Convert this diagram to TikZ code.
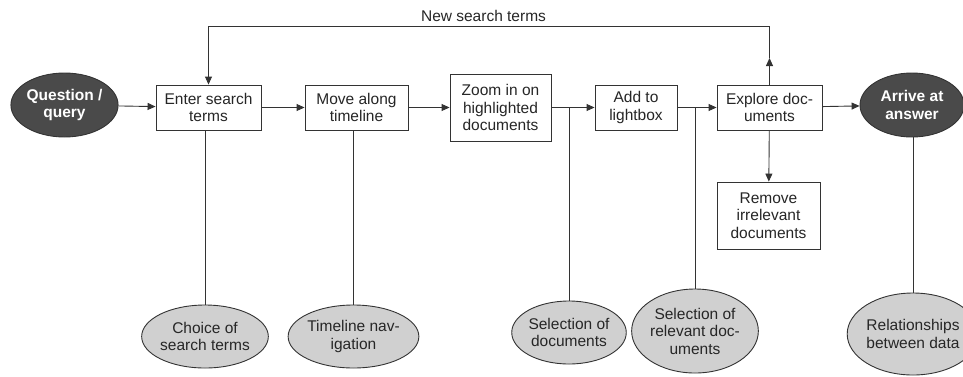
\documentclass[tikz,border=0pt]{standalone}
\usepackage{fontspec}
\setmainfont{Liberation Sans}
\usetikzlibrary{shapes.geometric,arrows.meta}
\definecolor{lin}{HTML}{333333}
\definecolor{dark}{HTML}{4A4A4A}
\definecolor{light}{HTML}{D0D0D0}
\begin{document}
\begin{tikzpicture}[x=1pt,y=-1pt,
  every node/.style={font=\fontsize{15.5}{17.5}\selectfont, align=center, inner sep=0pt, text=black!85},
  stepbox/.style={draw=lin, line width=0.9pt, fill=white, rectangle},
  darkell/.style={ellipse, draw=lin, line width=0.9pt, fill=dark, text=white, font=\fontsize{15.5}{17.5}\selectfont\bfseries},
  lightell/.style={ellipse, draw=lin, line width=0.9pt, fill=light},
  conn/.style={draw=lin, line width=0.9pt},
  arr/.style={conn, -{Triangle[length=8pt,width=7pt]}}]
\useasboundingbox (0,0) rectangle (963,376);
% main row
\node[darkell, minimum width=105, minimum height=64] (q) at (64.5,105) {Question /\\query};
\node[stepbox, minimum width=105, minimum height=45] (enter) at (208.5,107.5) {Enter search\\terms};
\node[stepbox, minimum width=103, minimum height=45] (move) at (356.5,107.5) {Move along\\timeline};
\node[stepbox, minimum width=101, minimum height=67] (zoom) at (500.5,107.5) {Zoom in on\\highlighted\\documents};
\node[stepbox, minimum width=82, minimum height=45] (add) at (636,107.5) {Add to\\lightbox};
\node[stepbox, minimum width=105, minimum height=45] (explore) at (769.5,107.5) {Explore doc-\\uments};
\node[darkell, minimum width=104, minimum height=64] (arrive) at (912,105) {Arrive at\\answer};
\node[stepbox, minimum width=103, minimum height=67] (remove) at (768.5,215.5) {Remove\\irrelevant\\documents};
% bottom ellipses
\node[lightell, minimum width=105, minimum height=63] (choice) at (205,336.5) {Choice of\\search terms};
\node[lightell, minimum width=105, minimum height=63] (tnav) at (353.5,336.5) {Timeline nav-\\igation};
\node[lightell, minimum width=105, minimum height=63] (seldoc) at (569,332.5) {Selection of\\documents};
\node[lightell, minimum width=104, minimum height=84] (selrel) at (695,331) {Selection of\\relevant doc-\\uments};
\node[lightell, minimum width=104, minimum height=82] (rel) at (913,334) {Relationships\\between data};
% coordinates
\coordinate (b1) at (569,107.5);
\coordinate (b2) at (695,107.5);
\coordinate (up) at (769.5,58);
\coordinate (tr) at (769.5,26);
\coordinate (tl) at (208.5,26);
% label
\node (nst) at (483.5,16) {New search terms};
% arrows
\draw[arr] (q) -- (enter);
\draw[arr] (enter) -- (move);
\draw[arr] (move) -- (zoom);
\draw[arr] (zoom) -- (add);
\draw[arr] (add) -- (explore);
\draw[arr] (explore) -- (arrive);
\draw[arr] (explore) -- (remove);
\draw[arr] (explore.north) -- (up);
\draw[conn] (up) -- (tr) -- (tl);
\draw[arr] (tl) -- (enter.north);
% vertical links
\draw[conn] (enter.south -| choice.north) -- (choice.north);
\draw[conn] (move.south -| tnav.north) -- (tnav.north);
\draw[conn] (b1) -- (seldoc.north);
\draw[conn] (b2) -- (selrel.north);
\draw[conn] (arrive.south -| rel.north) -- (rel.north);
\end{tikzpicture}
\end{document}
